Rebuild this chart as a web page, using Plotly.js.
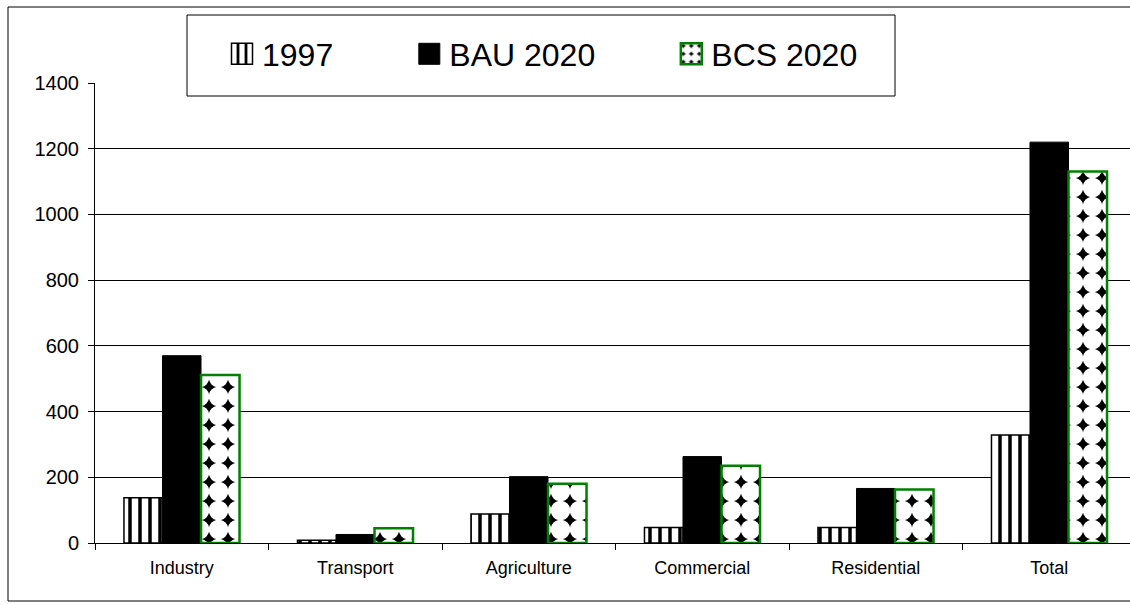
<!DOCTYPE html>
<html>
<head>
<meta charset="utf-8">
<script src="https://cdn.plot.ly/plotly-3.0.1.min.js"></script>
<style>
  html, body { margin: 0; padding: 0; background: #fff; }
  #chart { width: 1130px; height: 605px; }
</style>
</head>
<body>
<div id="chart"></div>
<script>
// ---- data ----
const categories = ["Industry", "Transport", "Agriculture", "Commercial", "Residential", "Total"];
const seriesNames = ["1997", "BAU 2020", "BCS 2020"];
const values1997 = [138, 8, 88, 47, 47, 329];
const valuesBAU2020 = [570, 26, 202, 263, 166, 1220];
const valuesBCS2020 = [511, 45, 180, 235, 163, 1131];
const yTicks = [0, 200, 400, 600, 800, 1000, 1200, 1400];

// ---- geometry helpers (pixels -> paper coords) ----
const W = 1130, H = 605;
const mL = 95, mR = 0, mT = 83, mB = 62;
const plotW = W - mL - mR, plotH = H - mT - mB;
const px = x => (x - mL) / plotW;
const py = y => (H - mB - y) / plotH;
const catPx = 173.5; // pixels per category
const xMax = -0.5 + plotW / catPx;

const FONT = "Liberation Sans, Arial, sans-serif";
const PAD = "\u00a0".repeat(8); // spacing between legend entries

const traces = [
  {
    type: "bar", name: seriesNames[0] + PAD, x: categories, y: values1997,
    marker: {
      color: "white",
      line: { color: "black", width: 1.5 },
      pattern: { shape: "|", size: 10, solidity: 0.35, fgcolor: "black", bgcolor: "white" }
    }
  },
  {
    type: "bar", name: seriesNames[1] + PAD, x: categories, y: valuesBAU2020,
    marker: { color: "black", line: { color: "black", width: 1 } }
  },
  {
    type: "bar", name: seriesNames[2], x: categories, y: valuesBCS2020,
    marker: {
      color: "black",
      line: { color: "#008000", width: 2.5 },
      pattern: { shape: ".", size: 19, solidity: 0.80, fgcolor: "white", bgcolor: "black", fillmode: "replace" }
    }
  }
];

const layout = {
  width: W, height: H,
  margin: { l: mL, r: mR, t: mT, b: mB, pad: 0 },
  paper_bgcolor: "white", plot_bgcolor: "white",
  font: { family: FONT, color: "black", size: 18 },
  barmode: "group",
  bargap: 0.334, bargroupgap: 0,
  showlegend: true,
  legend: {
    orientation: "h",
    x: px(222), xanchor: "left",
    y: py(54), yanchor: "middle",
    font: { family: FONT, size: 32, color: "black" },
    bgcolor: "rgba(0,0,0,0)", borderwidth: 0,
    traceorder: "normal"
  },
  xaxis: {
    type: "category",
    range: [-0.5, xMax],
    showline: true, linecolor: "black", linewidth: 1,
    ticks: "outside", tickson: "boundaries", ticklen: 6, tickcolor: "black",
    showgrid: false, zeroline: false,
    tickfont: { family: FONT, size: 18, color: "black" },
    ticklabelstandoff: 8,
    fixedrange: true
  },
  yaxis: {
    range: [0, 1400],
    tickvals: yTicks,
    ticktext: yTicks.map(String),
    showline: true, linecolor: "black", linewidth: 1,
    ticks: "outside", ticklen: 6, tickcolor: "black",
    showgrid: true, gridcolor: "black", gridwidth: 1,
    zeroline: false,
    tickfont: { family: FONT, size: 20, color: "black" },
    ticklabelstandoff: 5,
    fixedrange: true
  },
  shapes: [
    // outer chart border
    { type: "rect", xref: "paper", yref: "paper",
      x0: px(8), x1: px(1140), y0: py(601), y1: py(7),
      line: { color: "black", width: 1 }, fillcolor: "rgba(0,0,0,0)", layer: "below" },
    // legend box
    { type: "rect", xref: "paper", yref: "paper",
      x0: px(187), x1: px(895), y0: py(96), y1: py(15),
      line: { color: "black", width: 1 }, fillcolor: "white", layer: "above" }
  ]
};

Plotly.newPlot("chart", traces, layout, { displayModeBar: false, staticPlot: true }).then(gd => {
  // enlarge legend swatches to match the reference's bigger squares
  gd.querySelectorAll(".legend .legendpoints path").forEach(p => {
    p.setAttribute("d", "M10.5,10.5H-10.5V-10.5H10.5Z");
  });
});
</script>
</body>
</html>
